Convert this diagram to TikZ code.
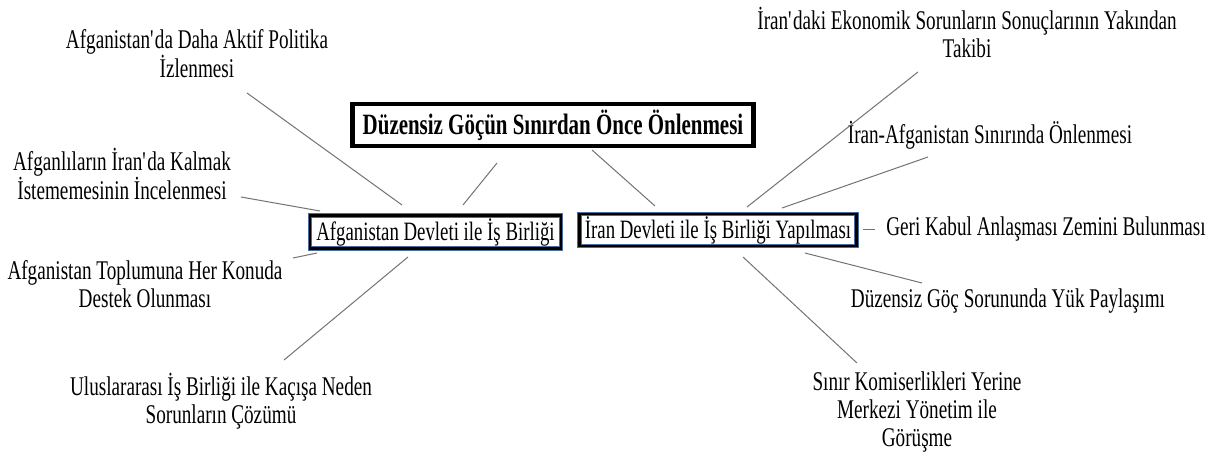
\documentclass[tikz,border=0pt]{standalone}
\usepackage{fontspec}
\setmainfont{Liberation Serif}[FakeStretch=0.71]
\definecolor{boxblue}{RGB}{70,110,160}
\begin{document}
\begin{tikzpicture}[x=1pt,y=-1pt,
  lbl/.style={inner sep=0pt,align=center,font=\fontsize{27}{28}\selectfont},
  conn/.style={draw=black!55,line width=1pt},
  titlebox/.style={draw=black,line width=4.5pt,minimum width=401pt,minimum height=42pt,inner sep=0pt,font=\bfseries\fontsize{29.5}{32}\selectfont},
  subbox/.style={preaction={draw=boxblue,line width=4.2pt},draw=black,line width=2.6pt,inner sep=0pt,font=\fontsize{26.5}{28}\selectfont}
]
\useasboundingbox[fill=white] (0,0) rectangle (1218,461);
% main nodes
\node[titlebox] (title) at (553,125) {Düzensiz Göçün Sınırdan Önce Önlenmesi};
\node[subbox,minimum width=251pt,minimum height=33pt] (afg) at (435.5,232) {Afganistan Devleti ile İş Birliği};
\node[subbox,minimum width=277pt,minimum height=32pt] (iran) at (718,230) {İran Devleti ile İş Birliği Yapılması};
% labels
\node[lbl] (a1) at (197,54) {Afganistan\textquotesingle da Daha Aktif Politika\\İzlenmesi};
\node[lbl] (a2) at (122,174) {Afganlıların İran\textquotesingle da Kalmak\\İstememesinin İncelenmesi};
\node[lbl] (a3) at (145,284) {Afganistan Toplumuna Her Konuda\\Destek Olunması};
\node[lbl] (a4) at (221,401) {Uluslararası İş Birliği ile Kaçışa Neden\\Sorunların Çözümü};
\node[lbl] (i1) at (967,32) {İran\textquotesingle daki Ekonomik Sorunların Sonuçlarının Yakından\\Takibi};
\node[lbl] (i2) at (990,135) {İran-Afganistan Sınırında Önlenmesi};
\node[lbl] (i3) at (1046,229) {Geri Kabul Anlaşması Zemini Bulunması};
\node[lbl] (i4) at (1008,301) {Düzensiz Göç Sorununda Yük Paylaşımı};
\node[lbl] (i5) at (917,412) {Sınır Komiserlikleri Yerine\\Merkezi Yönetim ile\\Görüşme};
% connector end points
\coordinate (ta) at (497,163); \coordinate (at) at (463,205);
\coordinate (ti) at (592,150); \coordinate (it) at (655,206);
\coordinate (a1e) at (247,93);  \coordinate (a1s) at (402,205);
\coordinate (a2e) at (241,197); \coordinate (a2s) at (320,211);
\coordinate (a3e) at (293,258); \coordinate (a3s) at (317,253);
\coordinate (a4e) at (284,360); \coordinate (a4s) at (408,257);
\coordinate (i1e) at (918,72);  \coordinate (i1s) at (747,207);
\coordinate (i2e) at (928,157); \coordinate (i2s) at (782,208);
\coordinate (i3e) at (875,229); \coordinate (i3s) at (863,229);
\coordinate (i4e) at (922,283); \coordinate (i4s) at (805,253);
\coordinate (i5e) at (857,363); \coordinate (i5s) at (743,257);
% connectors
\draw[conn] (ta) -- (at);
\draw[conn] (ti) -- (it);
\draw[conn] (a1s) -- (a1e);
\draw[conn] (a2s) -- (a2e);
\draw[conn] (a3s) -- (a3e);
\draw[conn] (a4s) -- (a4e);
\draw[conn] (i1s) -- (i1e);
\draw[conn] (i2s) -- (i2e);
\draw[conn] (i3s) -- (i3e);
\draw[conn] (i4s) -- (i4e);
\draw[conn] (i5s) -- (i5e);
\end{tikzpicture}
\end{document}
